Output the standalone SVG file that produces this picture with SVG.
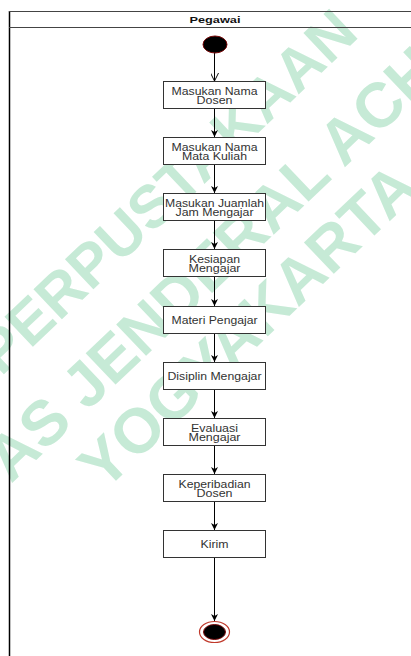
<svg xmlns="http://www.w3.org/2000/svg" width="411" height="656" viewBox="0 0 411 656">
<defs>
<style>
.box{fill:#fff;stroke:#333;stroke-width:1}
.lbl{font-family:"Liberation Sans",Arial,sans-serif;font-size:10px;fill:#333;text-anchor:middle}
.edge{stroke:#000;stroke-width:1;fill:none}
.wm{font-family:"Liberation Sans",Arial,sans-serif;font-weight:bold;fill:#c6ead6}
</style>
<marker id="ah" viewBox="0 0 10 10" refX="10" refY="5" markerWidth="7" markerHeight="7" orient="auto" markerUnits="userSpaceOnUse">
<path d="M0,0 L10,5 L0,10 L3,5 Z" fill="#000"/>
</marker>
<marker id="oa" viewBox="0 0 10 10" refX="10" refY="5" markerWidth="8" markerHeight="8" orient="auto" markerUnits="userSpaceOnUse">
<path d="M0,0 L10,5 L0,10" fill="none" stroke="#000" stroke-width="1.2"/>
</marker>
</defs>
<rect width="411" height="656" fill="#fff"/>
<g id="watermark">
<text class="wm" font-size="60" transform="translate(1,377) rotate(-43.5)">PERPUSTAKAAN</text>
<text class="wm" font-size="63" transform="translate(11,484) rotate(-43.5)">AS JENDERAL ACH</text>
<text class="wm" font-size="63" transform="translate(104,492) rotate(-43.5)">YOGYAKARTA</text>
</g>
<g id="lane">
<line x1="9.5" y1="11" x2="9.5" y2="656" stroke="#000" stroke-width="1.5"/>
<line x1="9" y1="11.5" x2="411" y2="11.5" stroke="#444"/>
<line x1="9" y1="27.5" x2="411" y2="27.5" stroke="#444"/>
<text x="215" y="22.5" font-family="'Liberation Sans',Arial,sans-serif" font-size="9.5" font-weight="bold" fill="#111" text-anchor="middle" textLength="51" lengthAdjust="spacingAndGlyphs">Pegawai</text>
</g>
<g id="connectors">
<line class="edge" x1="214.5" y1="52" x2="214.5" y2="81" marker-end="url(#oa)"/>
<line class="edge" x1="214.5" y1="109" x2="214.5" y2="137" marker-end="url(#ah)"/>
<line class="edge" x1="214.5" y1="165" x2="214.5" y2="193" marker-end="url(#ah)"/>
<line class="edge" x1="214.5" y1="221" x2="214.5" y2="249" marker-end="url(#ah)"/>
<line class="edge" x1="214.5" y1="277" x2="214.5" y2="306" marker-end="url(#ah)"/>
<line class="edge" x1="214.5" y1="334" x2="214.5" y2="362" marker-end="url(#ah)"/>
<line class="edge" x1="214.5" y1="390" x2="214.5" y2="418" marker-end="url(#ah)"/>
<line class="edge" x1="214.5" y1="446" x2="214.5" y2="474" marker-end="url(#ah)"/>
<line class="edge" x1="214.5" y1="502" x2="214.5" y2="530" marker-end="url(#ah)"/>
<line class="edge" x1="214.5" y1="558" x2="214.5" y2="621" marker-end="url(#ah)"/>
</g>
<g id="start">
<ellipse cx="215" cy="44.5" rx="12" ry="8.5" fill="#000" stroke="#7a0a0a" stroke-width="1"/>
</g>
<g id="n1"><rect class="box" x="163.5" y="81.5" width="102" height="27"/><text class="lbl" x="214.5" y="94.5" textLength="86" lengthAdjust="spacingAndGlyphs">Masukan Nama</text><text class="lbl" x="214.5" y="104" textLength="36" lengthAdjust="spacingAndGlyphs">Dosen</text></g>
<g id="n2"><rect class="box" x="163.5" y="137.5" width="102" height="27"/><text class="lbl" x="214.5" y="150.5" textLength="86" lengthAdjust="spacingAndGlyphs">Masukan Nama</text><text class="lbl" x="214.5" y="160" textLength="65" lengthAdjust="spacingAndGlyphs">Mata Kuliah</text></g>
<g id="n3"><rect class="box" x="163.5" y="193.5" width="102" height="27"/><text class="lbl" x="214.5" y="206.5" textLength="99" lengthAdjust="spacingAndGlyphs">Masukan Juamlah</text><text class="lbl" x="214.5" y="216" textLength="78" lengthAdjust="spacingAndGlyphs">Jam Mengajar</text></g>
<g id="n4"><rect class="box" x="163.5" y="249.5" width="102" height="27"/><text class="lbl" x="214.5" y="262.5" textLength="51" lengthAdjust="spacingAndGlyphs">Kesiapan</text><text class="lbl" x="214.5" y="272" textLength="52" lengthAdjust="spacingAndGlyphs">Mengajar</text></g>
<g id="n5"><rect class="box" x="163.5" y="306.5" width="102" height="27"/><text class="lbl" x="214.5" y="324" textLength="86" lengthAdjust="spacingAndGlyphs">Materi Pengajar</text></g>
<g id="n6"><rect class="box" x="163.5" y="362.5" width="102" height="27"/><text class="lbl" x="214.5" y="380" textLength="94" lengthAdjust="spacingAndGlyphs">Disiplin Mengajar</text></g>
<g id="n7"><rect class="box" x="163.5" y="418.5" width="102" height="27"/><text class="lbl" x="214.5" y="431.5" textLength="47" lengthAdjust="spacingAndGlyphs">Evaluasi</text><text class="lbl" x="214.5" y="441" textLength="52" lengthAdjust="spacingAndGlyphs">Mengajar</text></g>
<g id="n8"><rect class="box" x="163.5" y="474.5" width="102" height="27"/><text class="lbl" x="214.5" y="487.5" textLength="72" lengthAdjust="spacingAndGlyphs">Keperibadian</text><text class="lbl" x="214.5" y="497" textLength="36" lengthAdjust="spacingAndGlyphs">Dosen</text></g>
<g id="n9"><rect class="box" x="163.5" y="530.5" width="102" height="27"/><text class="lbl" x="214.5" y="548" textLength="28" lengthAdjust="spacingAndGlyphs">Kirim</text></g>
<g id="end">
<ellipse cx="214.5" cy="632" rx="15" ry="10.5" fill="#fff" stroke="#c0392b" stroke-width="1.2"/>
<ellipse cx="214.5" cy="632" rx="11" ry="7.5" fill="#000" stroke="#7a0a0a" stroke-width="1"/>
</g>
</svg>
